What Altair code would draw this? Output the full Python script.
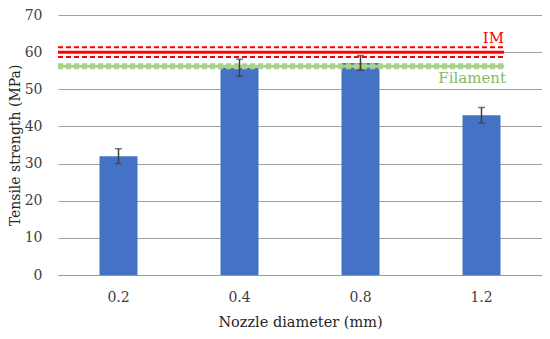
import altair as alt
import pandas as pd

# Data
nozzle = ["0.2", "0.4", "0.8", "1.2"]
strength = [32.0, 55.8, 57.1, 43.0]
err = [2.0, 2.3, 2.0, 2.1]

ref_names = ["IM", "Filament"]
ref_values = [60.0, 56.2]
ref_err = [1.33, 0.55]
y_ticks = [0, 10, 20, 30, 40, 50, 60, 70]

bars_df = pd.DataFrame({"nozzle": nozzle, "strength": strength, "err": err})
bars_df["lo"] = bars_df["strength"] - bars_df["err"]
bars_df["hi"] = bars_df["strength"] + bars_df["err"]

ref_df = pd.DataFrame({"name": ref_names, "value": ref_values, "err": ref_err})
ref_df["lo"] = ref_df["value"] - ref_df["err"]
ref_df["hi"] = ref_df["value"] + ref_df["err"]

FONT = "DejaVu Serif"
ref_colors = alt.Scale(domain=ref_names, range=["#FF0000", "#70AD47"])
dash_colors = alt.Scale(domain=ref_names, range=["#FF0000", "#A9D18E"])

x_axis = alt.Axis(labelAngle=0, ticks=False, domain=True, domainColor="#999999",
                  labelPadding=15, titlePadding=11, labelFontSize=14, titleFontSize=14.5)
y_axis = alt.Axis(values=y_ticks, ticks=False, domain=False, grid=True,
                  gridColor="#a0a0a0", labelPadding=16, titlePadding=2,
                  labelOverlap=False, labelFontSize=14, titleFontSize=14)
y_scale = alt.Scale(domain=[0, 70], nice=False)

LINE_END = 446


def X():
    return alt.X("nozzle:N", sort=nozzle, title="Nozzle diameter (mm)",
                 scale=alt.Scale(paddingInner=0, paddingOuter=0), axis=x_axis)


def Y(field):
    return alt.Y(field, scale=y_scale, title="Tensile strength (MPa)", axis=y_axis)


base = alt.Chart(bars_df)

bars = base.mark_bar(size=38, color="#4472C4").encode(x=X(), y=Y("strength:Q"))

rules = base.mark_rule(color="#404040", strokeWidth=1.5).encode(
    x=X(), y=Y("lo:Q"), y2="hi:Q")
cap_hi = base.mark_tick(color="#404040", size=7, thickness=1.5, orient="horizontal").encode(
    x=X(), y=Y("hi:Q"))
cap_lo = base.mark_tick(color="#404040", size=7, thickness=1.5, orient="horizontal").encode(
    x=X(), y=Y("lo:Q"))

ref = alt.Chart(ref_df)
ref_solid = ref.mark_rule(strokeWidth=3).encode(
    x=alt.value(0), x2=alt.value(LINE_END), y=Y("value:Q"),
    color=alt.Color("name:N", scale=ref_colors, legend=None))
ref_lo = ref.mark_rule(strokeWidth=2, strokeDash=[5, 3]).encode(
    x=alt.value(0), x2=alt.value(LINE_END), y=Y("lo:Q"),
    color=alt.Color("name:N", scale=dash_colors, legend=None))
ref_hi = ref.mark_rule(strokeWidth=2, strokeDash=[5, 3]).encode(
    x=alt.value(0), x2=alt.value(LINE_END), y=Y("hi:Q"),
    color=alt.Color("name:N", scale=dash_colors, legend=None))

im_label = alt.Chart(ref_df[ref_df["name"] == "IM"]).mark_text(
    align="right", baseline="alphabetic", font=FONT, fontSize=15,
    color="#FF0000", dy=-4).encode(
    x=alt.value(LINE_END), y=Y("hi:Q"), text="name:N")
fil_label = alt.Chart(ref_df[ref_df["name"] == "Filament"]).mark_text(
    align="right", baseline="top", font=FONT, fontSize=15,
    color="#84BA5E", dy=3).encode(
    x=alt.value(LINE_END + 2), y=Y("lo:Q"), text="name:N")

chart = alt.layer(
    bars, ref_lo, ref_hi, ref_solid, rules, cap_hi, cap_lo, im_label, fil_label
).properties(
    width=484, height=260,
    autosize=alt.AutoSizeParams(type="none"),
    padding={"left": 50, "top": 7, "right": 0, "bottom": 56},
).configure(font=FONT).configure_view(stroke=None).configure_axis(
    labelFont=FONT, titleFont=FONT,
    labelColor="#404040", titleColor="#262626", titleFontWeight="normal",
)

chart.save("out.html", embed_options={"renderer": "svg", "actions": False})
